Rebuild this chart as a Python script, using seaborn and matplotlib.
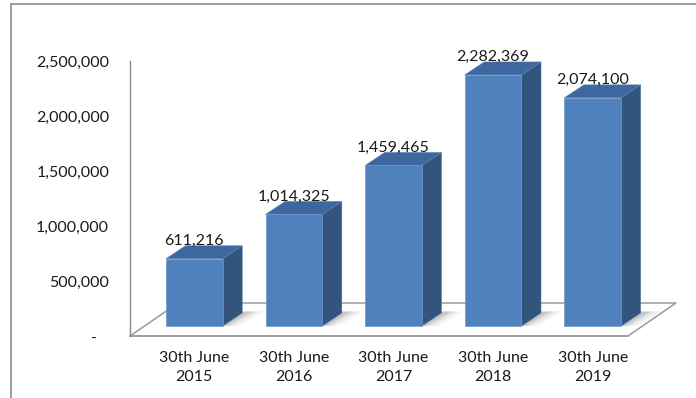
import numpy as np
import pandas as pd
import matplotlib
matplotlib.use("Agg")
import matplotlib.pyplot as plt
import matplotlib.transforms as mtransforms
from matplotlib.patches import Polygon
from matplotlib.lines import Line2D
import seaborn as sns

# Chart data
periods = ["30th June\n2015", "30th June\n2016", "30th June\n2017",
           "30th June\n2018", "30th June\n2019"]
values = [611216, 1014325, 1459465, 2282369, 2074100]
y_ticks = [0, 500000, 1000000, 1500000, 2000000, 2500000]
y_tick_labels = ["-   ", "500,000", "1,000,000", "1,500,000", "2,000,000", "2,500,000"]

df = pd.DataFrame({"period": periods, "value": values})

sns.set_theme(style="white")
plt.rcParams["font.family"] = ["Lato", "DejaVu Sans"]

W, H, DPI = 696, 398, 100
fig = plt.figure(figsize=(W / DPI, H / DPI), dpi=DPI)

# plot area in pixels: x 130..628, y 61..336 (top-down)
ax_left, ax_right, ax_top, ax_bot = 130, 628, 61, 336
ax = fig.add_axes([ax_left / W, 1 - ax_bot / H,
                   (ax_right - ax_left) / W, (ax_bot - ax_top) / H])

n = len(periods)
ymax = y_ticks[-1]
ax.set_xlim(-0.5, n - 0.5)
ax.set_ylim(0, ymax)

# pixel -> data unit conversions
ux = n / (ax_right - ax_left)
uy = ymax / (ax_bot - ax_top)

# 3D geometry (pixels)
floor_dx, floor_dy = 48, 33      # depth of the floor
place_dx, place_dy = 14.5, 10    # bars sit part-way back on the floor
bar_dx, bar_dy = 19.5, 13        # depth of each bar

edge_gray = "#9a9a9a"
front_col = "#4f81bd"
side_col = "#33547c"
top_col = "#3d679e"

# floor
fx0, fx1 = -0.5, n - 0.5
floor = Polygon([(fx0, 0), (fx1, 0),
                 (fx1 + floor_dx * ux, floor_dy * uy),
                 (fx0 + floor_dx * ux, floor_dy * uy)],
                closed=True, facecolor="white", edgecolor=edge_gray,
                linewidth=1.1, clip_on=False, zorder=1)
ax.add_patch(floor)

# front faces through seaborn
sns.barplot(data=df, x="period", y="value", width=0.57, color=front_col,
            saturation=1, edgecolor="#6d97c9", linewidth=0.5, ax=ax, zorder=4)

shift = mtransforms.ScaledTranslation(place_dx / DPI, place_dy / DPI,
                                      fig.dpi_scale_trans)
bars = list(ax.patches[1:])
for p in bars:
    p.set_transform(ax.transData + shift)
    p.set_clip_on(False)

sx, sy = place_dx * ux, place_dy * uy
bdx, bdy = bar_dx * ux, bar_dy * uy

for p, v in zip(bars, values):
    xl = p.get_x() + sx
    xr = xl + p.get_width()
    yb = sy
    yt = p.get_height() + sy

    # soft shadow on the floor, behind and right of each bar
    for k, a in zip([16, 12, 8, 5, 3], [0.05, 0.06, 0.07, 0.08, 0.1]):
        sh = Polygon([(xr, yb), (xr + k * ux, yb),
                      (xr + bdx + k * ux + 6 * ux, yb + bdy + 1.5 * uy),
                      (xr + bdx, yb + bdy + 1.5 * uy)],
                     closed=True, facecolor="#505050", edgecolor="none",
                     alpha=a, clip_on=False, zorder=2)
        ax.add_patch(sh)

    side = Polygon([(xr, yb), (xr + bdx, yb + bdy), (xr + bdx, yt + bdy), (xr, yt)],
                   closed=True, facecolor=side_col, edgecolor="#4a6f9c",
                   linewidth=0.4, clip_on=False, zorder=3)
    top = Polygon([(xl, yt), (xr, yt), (xr + bdx, yt + bdy), (xl + bdx, yt + bdy)],
                  closed=True, facecolor=top_col, edgecolor="#5b84b8",
                  linewidth=0.4, clip_on=False, zorder=3)
    ax.add_patch(side)
    ax.add_patch(top)

    ax.text((xl + xr) / 2, yt + bdy + 0.8 * uy, f"{v:,}", ha="center",
            va="baseline", fontsize=11.5, color="#1a1a1a", zorder=6)

# axes styling
for s in ["top", "right"]:
    ax.spines[s].set_visible(False)
ax.spines["left"].set_color("#8a8a8a")
ax.spines["left"].set_linewidth(1.0)
ax.spines["bottom"].set_color(edge_gray)
ax.spines["bottom"].set_linewidth(1.1)
ax.spines["bottom"].set_zorder(1.5)

ax.set_yticks(y_ticks)
ax.set_yticklabels(y_tick_labels)
ax.set_xticks(np.arange(n) + sx)
ax.set_xticklabels(periods, linespacing=1.45)
ax.tick_params(axis="both", length=0, labelsize=11.5, labelcolor="#1a1a1a")
ax.tick_params(axis="y", pad=15)
ax.tick_params(axis="x", pad=11)
ax.set_xlabel("")
ax.set_ylabel("")
ax.grid(False)
ax.set_facecolor("none")

# chart outline (left and top edges)
fig.add_artist(Line2D([10.5 / W, 10.5 / W], [0, 1 - 3.5 / H],
                      transform=fig.transFigure, color="#8c8c8c", linewidth=1.2))
fig.add_artist(Line2D([10.5 / W, 1], [1 - 3.5 / H, 1 - 3.5 / H],
                      transform=fig.transFigure, color="#8c8c8c", linewidth=1.2))

fig.savefig("out.png", dpi=DPI, facecolor="white")
